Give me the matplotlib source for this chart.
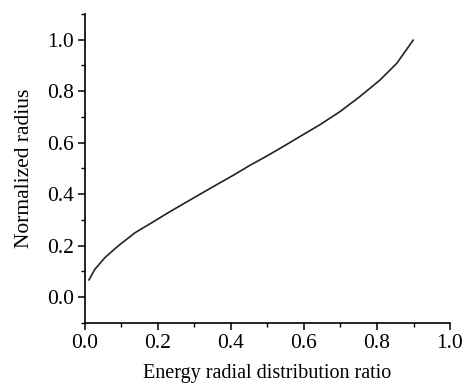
import numpy as np
import matplotlib
matplotlib.use("Agg")
import matplotlib.pyplot as plt
from matplotlib.ticker import MultipleLocator

# values
ratio = [0.011, 0.027, 0.055, 0.091, 0.137, 0.183, 0.228, 0.274, 0.324,
         0.361, 0.407, 0.452, 0.498, 0.543, 0.589, 0.644, 0.699, 0.753,
         0.808, 0.854, 0.899]
radius = [0.067, 0.108, 0.154, 0.199, 0.250, 0.289, 0.328, 0.366, 0.407,
          0.437, 0.474, 0.512, 0.548, 0.585, 0.624, 0.670, 0.721, 0.779,
          0.843, 0.908, 0.998]

plt.rcParams['font.family'] = ['Liberation Serif', 'DejaVu Serif']
plt.rcParams['font.size'] = 14

fig = plt.figure(figsize=(4.67, 3.83), dpi=100)
ax = fig.add_axes([0.182, 0.157, 0.7816, 0.8066])

ax.plot(ratio, radius, color='#222222', lw=1.2)

ax.set_xlim(0, 1.0)
ax.set_ylim(-0.1, 1.1)
ax.xaxis.set_major_locator(MultipleLocator(0.2))
ax.xaxis.set_minor_locator(MultipleLocator(0.1))
ax.yaxis.set_major_locator(MultipleLocator(0.2))
ax.yaxis.set_minor_locator(MultipleLocator(0.1))
ax.xaxis.set_major_formatter(plt.FormatStrFormatter('%.1f'))
ax.yaxis.set_major_formatter(plt.FormatStrFormatter('%.1f'))

for s in ['top', 'right']:
    ax.spines[s].set_visible(False)
for s in ['left', 'bottom']:
    ax.spines[s].set_linewidth(1.2)
ax.tick_params(which='major', direction='out', length=5, width=1.1, labelsize=15.5, pad=3)
ax.tick_params(which='minor', direction='out', length=3, width=1.0)

ax.set_xlabel('Energy radial distribution ratio', fontsize=14.5, labelpad=8)
ax.set_ylabel('Normalized radius', fontsize=15.5, labelpad=9)

fig.savefig('out.png', dpi=100)
